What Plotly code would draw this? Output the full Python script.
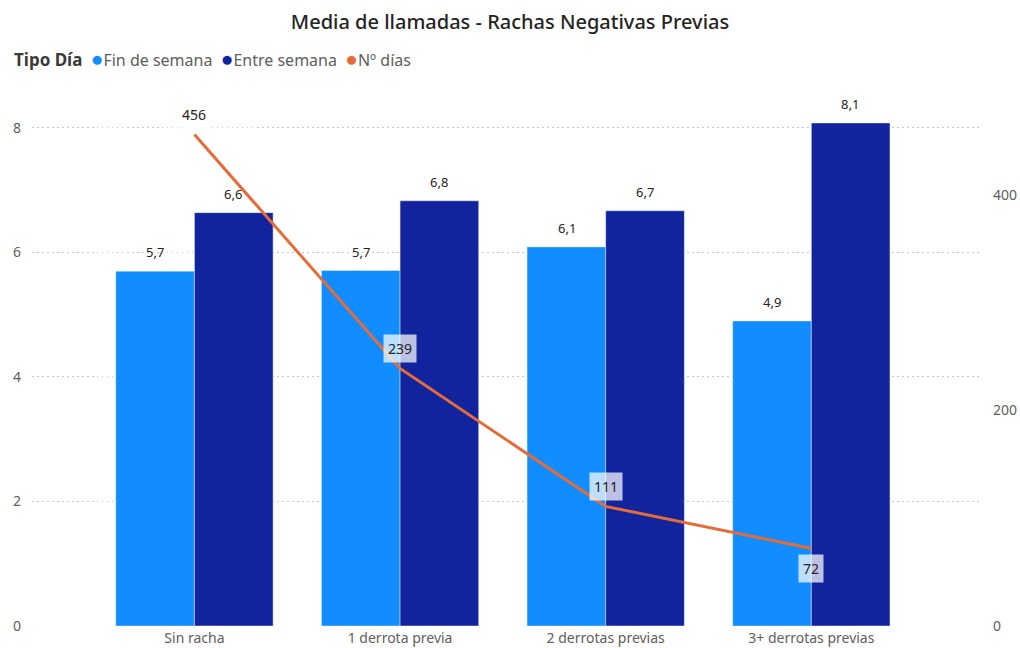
import plotly.graph_objects as go

categories = ["Sin racha", "1 derrota previa", "2 derrotas previas", "3+ derrotas previas"]
fin_semana = [5.70, 5.71, 6.09, 4.90]
entre_semana = [6.64, 6.83, 6.67, 8.08]
n_dias = [456, 239, 111, 72]
line_label_pos = ["above", "above", "above", "below"]
legend_title = "Tipo Día"
series_names = ["Fin de semana", "Entre semana", "Nº días"]

C_LIGHT = "#118DFF"
C_DARK = "#12239E"
C_ORANGE = "#E66C37"
TXT = "#252423"
TICK = "#605E5C"
FONT = "Noto Sans"
series_colors = [C_LIGHT, C_DARK, C_ORANGE]

xs = list(range(len(categories)))

fig = go.Figure()
fig.add_trace(go.Bar(x=xs, y=fin_semana, name=series_names[0], marker_color=C_LIGHT,
                     showlegend=False))
fig.add_trace(go.Bar(x=xs, y=entre_semana, name=series_names[1], marker_color=C_DARK,
                     showlegend=False))
fig.add_trace(go.Scatter(x=xs, y=n_dias, name=series_names[2], mode="lines",
                         line=dict(color=C_ORANGE, width=3), yaxis="y2", showlegend=False))

# bar value labels
for series, shift in [(fin_semana, -39), (entre_semana, 39)]:
    for x, v in zip(xs, series):
        fig.add_annotation(x=x, y=v, xref="x", yref="y", text=f"{v:.1f}".replace(".", ","),
                           showarrow=False, xshift=shift, yshift=19,
                           font=dict(color=TXT, size=13, family=FONT))

# line value labels
for x, v, pos in zip(xs, n_dias, line_label_pos):
    fig.add_annotation(x=x, y=v, xref="x", yref="y2", text=str(v), showarrow=False,
                       yshift=20 if pos == "above" else -20,
                       bgcolor="rgba(255,255,255,0.72)", borderpad=4,
                       font=dict(color=TXT, size=14, family=FONT))

# legend (compact, Power BI style)
items = "&nbsp;&nbsp;".join(
    f"<span style='color:{c};font-size:21px'>●</span>{n}" for n, c in zip(series_names, series_colors)
)
legend_text = f"<span style='color:#3B3A39;font-size:17px'><b>{legend_title}</b></span>&nbsp;&nbsp;{items}"
fig.add_annotation(x=(12 - 32) / 950, y=(626 - 58) / 536, xref="paper", yref="paper",
                   xanchor="left", yanchor="middle", showarrow=False, text=legend_text,
                   font=dict(size=16, color=TICK, family=FONT))

fig.update_layout(
    width=1020, height=648,
    margin=dict(l=32, r=38, t=90, b=22),
    paper_bgcolor="white", plot_bgcolor="white",
    separators=",.",
    barmode="group", bargap=0.235, bargroupgap=0,
    showlegend=False,
    font=dict(family=FONT, color=TXT),
    title=dict(text="Media de llamadas - Rachas Negativas Previas", x=0.5, xanchor="center",
               y=1 - 22 / 648, yanchor="middle", yref="container",
               font=dict(size=20, color=TXT, family=FONT, weight=500)),
    xaxis=dict(range=[-0.79, 3.83], tickmode="array", tickvals=xs, ticktext=categories,
               showgrid=False, zeroline=False, showline=False, ticks="", automargin=False,
               ticklabelstandoff=2, tickfont=dict(size=14, color=TICK)),
    yaxis=dict(range=[0, 8.61], tickvals=[0, 2, 4, 6, 8], showgrid=True, automargin=False,
               gridcolor="#C8C6C4", griddash="1.5px,3.5px", gridwidth=1, zeroline=False,
               ticks="", tickfont=dict(size=14, color=TICK), ticklabelstandoff=10),
    yaxis2=dict(range=[0, 497.4], overlaying="y", side="right", tickvals=[0, 200, 400],
                showgrid=False, zeroline=False, ticks="", automargin=False,
                tickfont=dict(size=14, color=TICK), ticklabelstandoff=10),
)

fig.write_html("out.html", config={"displayModeBar": False},
               post_script="document.body.style.margin='0';document.body.style.overflow='hidden';")
